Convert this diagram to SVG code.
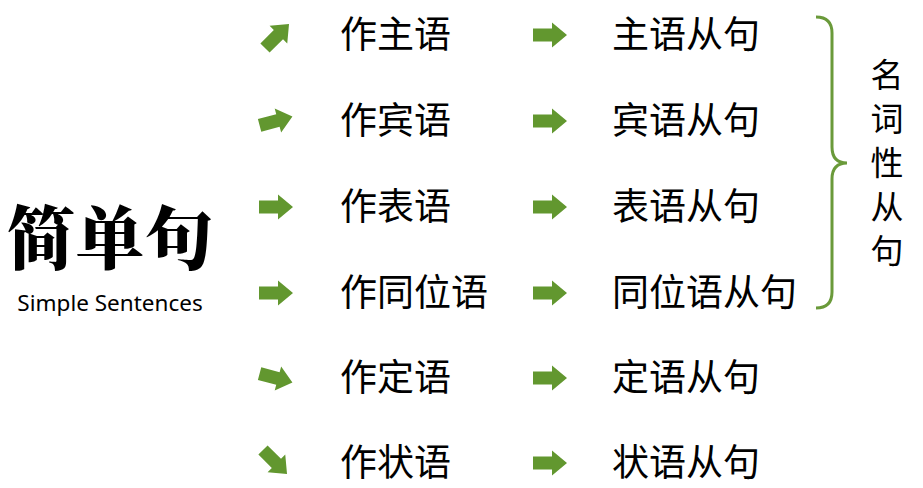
<svg xmlns="http://www.w3.org/2000/svg" width="923" height="488" viewBox="0 0 923 488">
<style>
.t{font-family:"Noto Sans CJK SC","Noto Sans",sans-serif;font-size:37px;fill:#000}
.v{font-family:"Noto Sans CJK SC","Noto Sans",sans-serif;font-size:33px;fill:#000;text-anchor:middle}
.arr{fill:#62972f}
</style>
<defs>
<polygon id="a" points="-17,-6.5 2,-6.5 2,-12.5 17,0 2,12.5 2,6.5 -17,6.5"/>
</defs>
<rect width="923" height="488" fill="#fff"/>
<g id="title">
<text x="110" y="264" text-anchor="middle" style="font-family:'Noto Serif CJK SC','Noto Sans CJK SC',serif;font-size:69px;font-weight:900">简单句</text>
<text x="110" y="311" text-anchor="middle" style="font-family:'Noto Sans','Open Sans',sans-serif;font-size:22.5px">Simple Sentences</text>
</g>
<g id="connectors" class="arr">
<use href="#a" transform="translate(277,36) rotate(-45)"/>
<use href="#a" transform="translate(276,121) rotate(-15)"/>
<use href="#a" transform="translate(276,207)"/>
<use href="#a" transform="translate(276,293)"/>
<use href="#a" transform="translate(276,378) rotate(15)"/>
<use href="#a" transform="translate(275,462) rotate(45)"/>
<use href="#a" transform="translate(550,35)"/>
<use href="#a" transform="translate(550,121)"/>
<use href="#a" transform="translate(550,207)"/>
<use href="#a" transform="translate(550,293)"/>
<use href="#a" transform="translate(550,378)"/>
<use href="#a" transform="translate(550,463)"/>
</g>
<g id="r1"><text class="t" x="340" y="48">作主语</text></g>
<g id="r2"><text class="t" x="340" y="134">作宾语</text></g>
<g id="r3"><text class="t" x="340" y="220">作表语</text></g>
<g id="r4"><text class="t" x="340" y="306">作同位语</text></g>
<g id="r5"><text class="t" x="340" y="391">作定语</text></g>
<g id="r6"><text class="t" x="340" y="476">作状语</text></g>
<g id="c1"><text class="t" x="612" y="48">主语从句</text></g>
<g id="c2"><text class="t" x="612" y="134">宾语从句</text></g>
<g id="c3"><text class="t" x="612" y="220">表语从句</text></g>
<g id="c4"><text class="t" x="612" y="306">同位语从句</text></g>
<g id="c5"><text class="t" x="612" y="391">定语从句</text></g>
<g id="c6"><text class="t" x="612" y="476">状语从句</text></g>
<g id="brace">
<path d="M816,17 Q832,17 832,33 L832,147 Q832,163 847,163 Q832,163 832,179 L832,292 Q832,308 816,308" fill="none" stroke="#6a9a3a" stroke-width="3"/>
</g>
<g id="label">
<text class="v" x="887" y="87">名</text>
<text class="v" x="887" y="131">词</text>
<text class="v" x="887" y="175">性</text>
<text class="v" x="887" y="219">从</text>
<text class="v" x="887" y="263">句</text>
</g>
</svg>
